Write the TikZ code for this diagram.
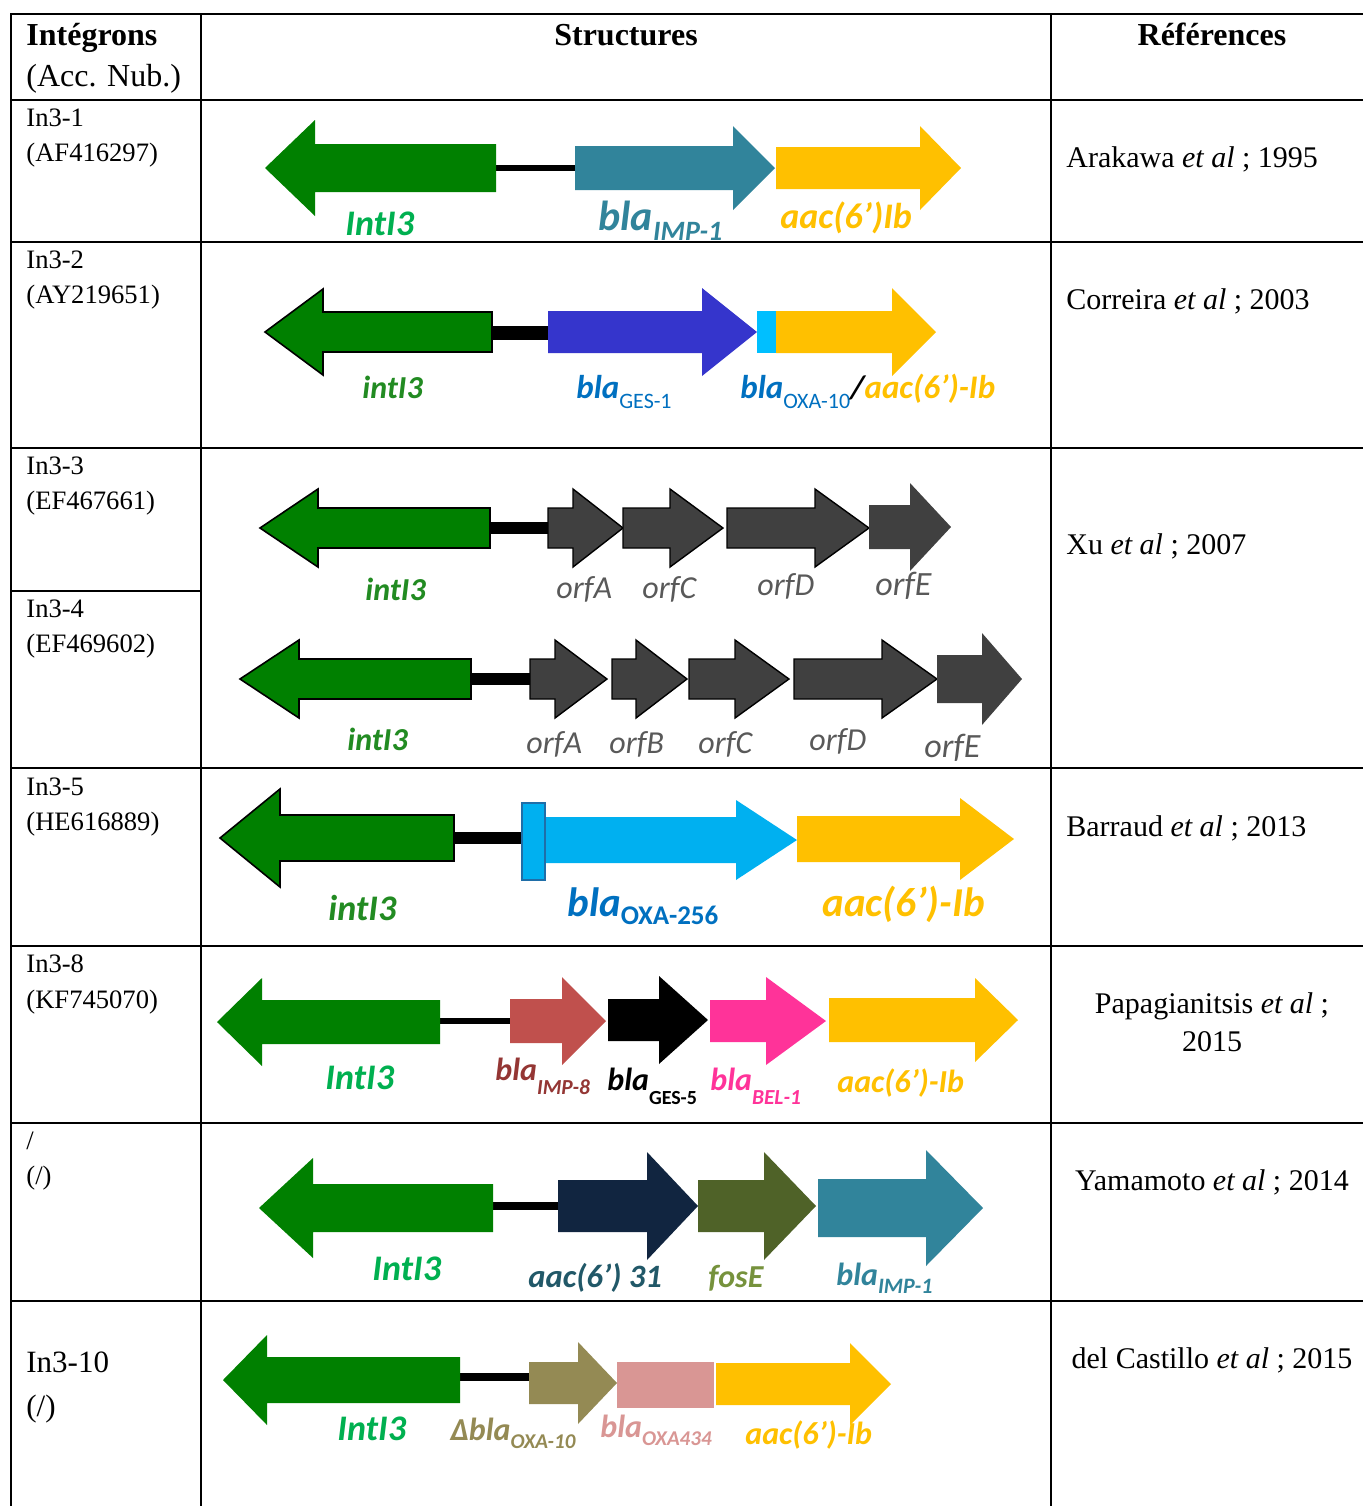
\documentclass[tikz,border=0pt]{standalone}
\usepackage{fontspec}
\setmainfont{Liberation Serif}
\newfontfamily\calib{Carlito}
\definecolor{garr}{RGB}{0,128,0}
\definecolor{glab}{RGB}{0,176,80}
\definecolor{glabtwo}{RGB}{34,139,34}
\definecolor{tealone}{RGB}{49,132,155}
\definecolor{gesb}{RGB}{53,53,204}
\definecolor{cyanone}{RGB}{0,191,255}
\definecolor{cyantwo}{RGB}{0,176,240}
\definecolor{cyanedge}{RGB}{31,110,168}
\definecolor{yel}{RGB}{255,192,0}
\definecolor{blab}{RGB}{0,112,192}
\definecolor{orfg}{RGB}{64,64,64}
\definecolor{orfl}{RGB}{89,89,89}
\definecolor{impr}{RGB}{192,80,77}
\definecolor{impl}{RGB}{148,54,52}
\definecolor{pinkb}{RGB}{255,51,153}
\definecolor{navyone}{RGB}{17,37,64}
\definecolor{navyl}{RGB}{33,88,104}
\definecolor{oliveone}{RGB}{79,98,40}
\definecolor{olivel}{RGB}{118,146,60}
\definecolor{khaki}{RGB}{148,138,84}
\definecolor{rosec}{RGB}{217,150,148}
% right-pointing gene arrow: x0, head base, tip, yc, body half, head half, style
\newcommand\rarr[7]{\path[#7] (#1,#4-#5) -- (#2,#4-#5) -- (#2,#4-#6) -- (#3,#4) -- (#2,#4+#6) -- (#2,#4+#5) -- (#1,#4+#5) -- cycle;}
% left-pointing gene arrow: tip, head base, body end, yc, body half, head half, style
\newcommand\larr[7]{\path[#7] (#1,#4) -- (#2,#4-#6) -- (#2,#4-#5) -- (#3,#4-#5) -- (#3,#4+#5) -- (#2,#4+#5) -- (#2,#4+#6) -- cycle;}
\newcommand\gsb[3]{\raisebox{-#2pt}{\fontsize{#1}{#1}\selectfont #3}}
\tikzset{
  tab/.style={line width=1.3pt, line cap=rect},
  hdr/.style={anchor=base, inner sep=0pt, font=\bfseries\fontsize{16}{19}\selectfont},
  lcol/.style={anchor=base west, inner sep=0pt, font=\fontsize{13.3}{16}\selectfont},
  refc/.style={anchor=base west, inner sep=0pt, font=\fontsize{15}{18}\selectfont},
  gl/.style={anchor=base west, inner sep=0pt, font=\calib\bfseries\itshape\fontsize{#1}{#1}\selectfont},
  ol/.style={anchor=base west, inner sep=0pt, text=orfl, font=\calib\itshape\fontsize{#1}{#1}\selectfont},
  outl/.style={fill=garr, draw=black, line width=0.8pt},
  orf/.style={fill=orfg, draw=black, line width=0.7pt},
  link/.style={line width=#1, draw=black}
}
\begin{document}
\begin{tikzpicture}[x=0.5pt, y=-0.5pt]
\useasboundingbox[fill=white] (0,0) rectangle (1362,1506);
% ---------- table grid ----------
\foreach \yy in {14,100,242,448,768,946,1123,1301}
  \draw[tab] (11,\yy) -- (1362,\yy);
\draw[tab] (11,591) -- (201,591);
\foreach \xx in {11,201,1051}
  \draw[tab] (\xx,14) -- (\xx,1506);
% ---------- header ----------
\node[hdr, anchor=base west] (hInt) at (26,45) {Intégrons};
\node[anchor=base west, inner sep=0pt, font=\fontsize{16}{19}\selectfont] (hAcc) at (26,86) {(Acc. Nub.)};
\node[hdr] (hStr) at (626,45) {Structures};
\node[hdr] (hRef) at (1212,45) {Références};
% ---------- left column ----------
\node[lcol] (a1) at (26,126) {In3-1};
\node[lcol] (b1) at (26,161) {(AF416297)};
\node[lcol] (a2) at (26,268) {In3-2};
\node[lcol] (b2) at (26,303) {(AY219651)};
\node[lcol] (a3) at (26,474) {In3-3};
\node[lcol] (b3) at (26,509) {(EF467661)};
\node[lcol] (a4) at (26,617) {In3-4};
\node[lcol] (b4) at (26,652) {(EF469602)};
\node[lcol] (a5) at (26,795) {In3-5};
\node[lcol] (b5) at (26,830) {(HE616889)};
\node[lcol] (a6) at (26,972) {In3-8};
\node[lcol] (b6) at (26,1008) {(KF745070)};
\node[lcol] (a7) at (26,1149) {/};
\node[lcol] (b7) at (26,1184) {(/)};
\node[lcol, font=\fontsize{15.5}{18}\selectfont] (a8) at (26,1372) {In3-10};
\node[lcol, font=\fontsize{15.5}{18}\selectfont] (b8) at (26,1416) {(/)};
% ---------- references ----------
\node[refc] (r1) at (1066,167) {Arakawa \textit{et al} ; 1995};
\node[refc] (r2) at (1066,309) {Correira \textit{et al} ; 2003};
\node[refc] (r3) at (1066,554) {Xu \textit{et al} ; 2007};
\node[refc] (r5) at (1066,836) {Barraud \textit{et al} ; 2013};
\node[refc, anchor=base] (r6) at (1212,1013) {Papagianitsis \textit{et al} ;};
\node[refc, anchor=base] (r6b) at (1212,1051) {2015};
\node[refc, anchor=base] (r7) at (1212,1190) {Yamamoto \textit{et al} ; 2014};
\node[refc, anchor=base] (r8) at (1212,1368) {del Castillo \textit{et al} ; 2015};
% ---------- row 1 : In3-1 ----------
\draw[link=3pt] (496,168) -- (575,168);
\larr{265}{315}{496}{168}{24}{48}{fill=garr}
\rarr{575}{733}{775}{168}{22}{42}{fill=tealone}
\rarr{776}{920}{961}{168}{21}{42}{fill=yel}
\node[gl=18, text=glab] (l11) at (345,235) {IntI3};
\node[gl=21, text=tealone] (l12) at (598,230) {bla\gsb{14}{5}{IMP-1}};
\node[gl=18, text=yel] (l13) at (780,228) {aac(6’)Ib};
% ---------- row 2 : In3-2 ----------
\draw[link=7pt] (492,333) -- (548,333);
\larr{265}{323}{492}{332}{20}{43}{outl}
\rarr{548}{702}{757}{332}{21}{44}{fill=gesb}
\fill[cyanone] (757,311) rectangle (776,353);
\rarr{776}{892}{936}{332}{21}{44}{fill=yel}
\node[gl=16, text=glabtwo] (l21) at (362,398) {intI3};
\node[gl=16.5, text=blab] (l22) at (576,398) {bla\gsb{11}{5}{\upshape\mdseries GES-1}};
\node[gl=16.5, text=blab] (l23) at (740,398) {bla\gsb{11}{5}{\upshape\mdseries OXA-10}\textcolor{black}{/}\textcolor{yel}{aac(6’)-Ib}};
% ---------- row 3 : In3-3 ----------
\draw[link=6pt] (490,528) -- (548,528);
\larr{260}{318}{490}{528}{20}{39}{outl}
\rarr{548}{573}{623}{528}{20}{39}{orf}
\rarr{623}{670}{723}{528}{20}{39}{orf}
\rarr{727}{815}{869}{528}{20}{39}{orf}
\rarr{869}{910}{951}{527}{22}{44}{fill=orfg}
\node[gl=16, text=glabtwo] (l31) at (365,600) {intI3};
\node[ol=16] (l32) at (556,598) {orfA};
\node[ol=16] (l33) at (642,598) {orfC};
\node[ol=16] (l34) at (757,595) {orfD};
\node[ol=17] (l35) at (875,595) {orfE};
% ---------- row 4 : In3-4 ----------
\draw[link=6pt] (471,679) -- (530,679);
\larr{240}{299}{471}{679}{20}{39}{outl}
\rarr{530}{555}{607}{679}{20}{39}{orf}
\rarr{612}{636}{687}{679}{20}{39}{orf}
\rarr{689}{735}{789}{679}{20}{39}{orf}
\rarr{794}{882}{937}{679}{20}{39}{orf}
\rarr{937}{982}{1022}{679}{24}{46}{fill=orfg}
\node[gl=16, text=glabtwo] (l41) at (347,750) {intI3};
\node[ol=16] (l42) at (526,753) {orfA};
\node[ol=16] (l43) at (609,753) {orfB};
\node[ol=16] (l44) at (698,753) {orfC};
\node[ol=16] (l45) at (809,750) {orfD};
\node[ol=17] (l46) at (924,757) {orfE};
% ---------- row 5 : In3-5 ----------
\draw[link=6pt] (454,838) -- (522,838);
\larr{220}{280}{454}{838}{23}{49}{outl}
\rarr{545}{736}{797}{840}{23}{40}{fill=cyantwo}
\filldraw[fill=cyantwo, draw=cyanedge, line width=0.8pt] (522,803) rectangle (545,880);
\rarr{797}{960}{1014}{839}{23}{41}{fill=yel}
\node[gl=18, text=glabtwo] (l51) at (328,920) {intI3};
\node[gl=20.5, text=blab] (l52) at (567,916) {bla\gsb{13.5}{4}{\upshape OXA-256}};
\node[gl=20.5, text=yel] (l53) at (822,916) {aac(6’)-Ib};
% ---------- row 6 : In3-8 ----------
\draw[link=3pt] (440,1021) -- (510,1021);
\larr{217}{262}{440}{1022}{22}{44}{fill=garr}
\rarr{510}{562}{606}{1021}{22}{44}{fill=impr}
\rarr{608}{659}{708}{1020}{21}{44}{fill=black}
\rarr{710}{766}{826}{1021}{21}{44}{fill=pinkb}
\rarr{829}{975}{1018}{1020}{22}{42}{fill=yel}
\node[gl=18, text=glab] (l61) at (325,1089) {IntI3};
\node[gl=16, text=impl] (l62) at (495,1080) {bla\gsb{10.7}{7}{IMP-8}};
\node[gl=16, text=black] (l63) at (607,1090) {bla\gsb{10}{7}{\upshape GES-5}};
\node[gl=16, text=pinkb] (l64) at (710,1090) {bla\gsb{10.7}{7}{BEL-1}};
\node[gl=16, text=yel] (l65) at (837,1092) {aac(6’)-Ib};
% ---------- row 7 : unnamed ----------
\draw[link=4pt] (493,1206) -- (558,1206);
\larr{259}{313}{493}{1208}{24}{50}{fill=garr}
\rarr{558}{647}{698}{1206}{26}{54}{fill=navyone}
\rarr{698}{764}{816}{1206}{26}{54}{fill=oliveone}
\rarr{818}{926}{983}{1208}{29}{58}{fill=tealone}
\node[gl=18, text=glab] (l71) at (372,1280) {IntI3};
\node[gl=16.3, text=navyl] (l72) at (528,1287) {aac(6’) 31};
\node[gl=16, text=olivel] (l73) at (708,1287) {fosE};
\node[gl=16, text=tealone] (l74) at (836,1285) {bla\gsb{11}{4}{IMP-1}};
% ---------- row 8 : In3-10 ----------
\draw[link=4pt] (460,1377) -- (529,1377);
\larr{223}{267}{460}{1380}{23}{45}{fill=garr}
\rarr{529}{578}{617}{1383}{21}{41}{fill=khaki}
\fill[rosec] (617,1362) rectangle (714,1408);
\rarr{716}{850}{891}{1384}{21}{41}{fill=yel}
\node[gl=18, text=glab] (l81) at (337,1440) {IntI3};
\node[gl=16, text=khaki] (l82) at (450,1440) {Δbla\gsb{10.5}{4}{OXA-10}};
\node[gl=16, text=rosec] (l83) at (600,1437) {bla\gsb{10.5}{4}{OXA434}};
\node[gl=16, text=yel] (l84) at (745,1444) {aac(6’)-Ib};
\end{tikzpicture}
\end{document}
